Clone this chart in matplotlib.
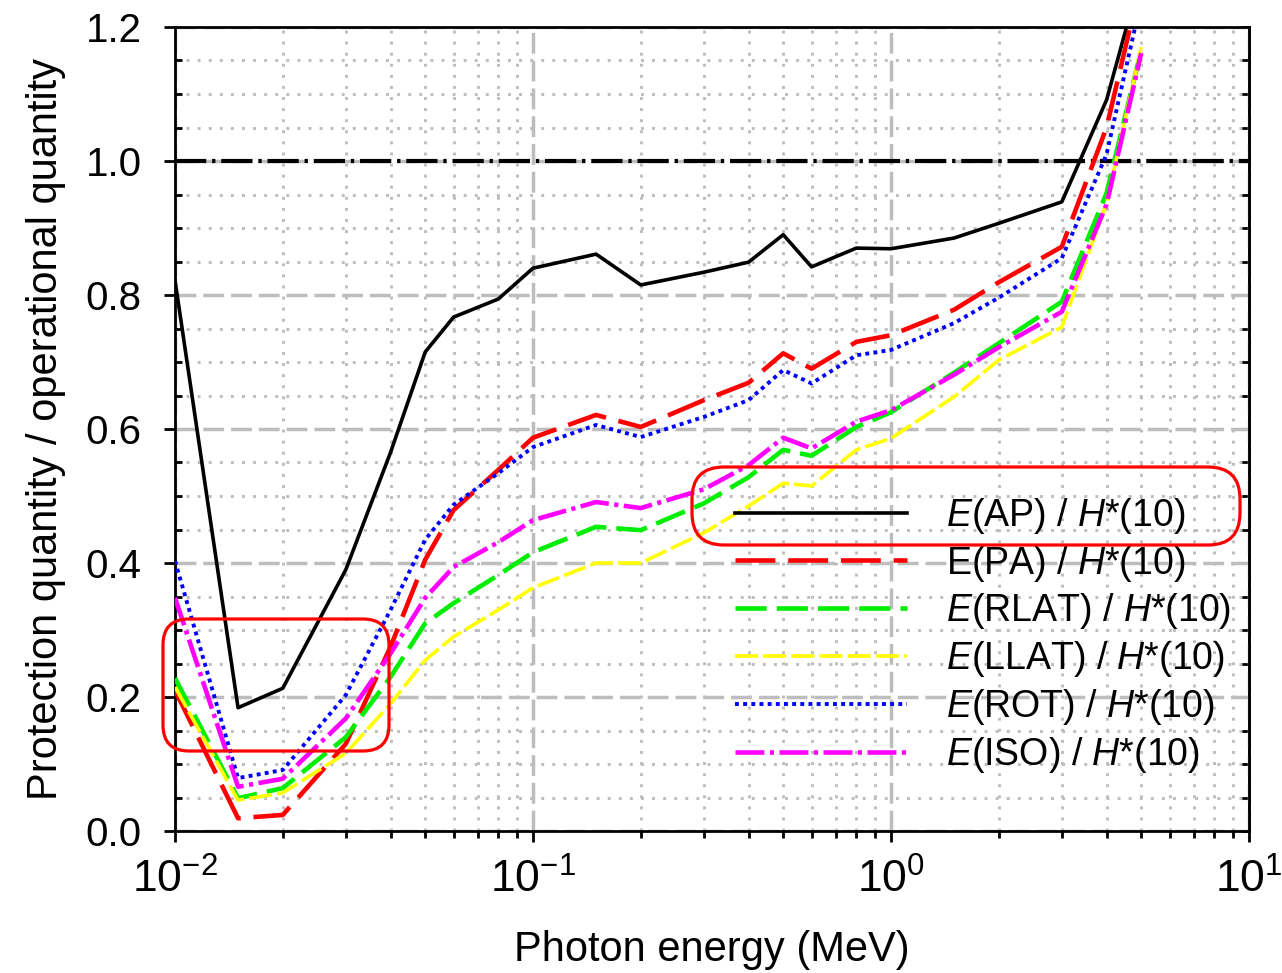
import numpy as np
import matplotlib
matplotlib.use("Agg")
import matplotlib.pyplot as plt
from matplotlib.patches import FancyBboxPatch
from matplotlib.ticker import LogLocator, LogFormatterSciNotation, MultipleLocator, FormatStrFormatter, NullFormatter

plt.rcParams['font.family'] = ['Liberation Sans', 'DejaVu Sans']
plt.rcParams['mathtext.fontset'] = 'custom'
plt.rcParams['mathtext.rm'] = 'Liberation Sans'
plt.rcParams['mathtext.it'] = 'Liberation Sans:italic'
plt.rcParams['axes.unicode_minus'] = False

# Photon energy (MeV)
energy = [0.01, 0.015, 0.02, 0.03, 0.04, 0.05, 0.06, 0.08, 0.1, 0.15, 0.2, 0.3,
          0.4, 0.5, 0.6, 0.8, 1.0, 1.5, 2.0, 3.0, 4.0, 5.0]

# Ratios E / H*(10) for each irradiation geometry
ratio_ap = [0.822, 0.184, 0.213, 0.390, 0.565, 0.715, 0.767, 0.794, 0.840, 0.861, 0.815, 0.834,
            0.849, 0.890, 0.842, 0.870, 0.869, 0.885, 0.907, 0.939, 1.091, 1.280]
ratio_pa = [0.210, 0.019, 0.024, 0.130, 0.275, 0.405, 0.479, 0.539, 0.587, 0.621, 0.603, 0.643,
            0.669, 0.713, 0.690, 0.730, 0.740, 0.778, 0.819, 0.872, 1.050, 1.270]
ratio_rlat = [0.228, 0.049, 0.064, 0.140, 0.230, 0.310, 0.340, 0.382, 0.416, 0.454, 0.449, 0.489,
              0.528, 0.569, 0.560, 0.603, 0.625, 0.684, 0.728, 0.790, 0.952, 1.166]
ratio_llat = [0.215, 0.046, 0.057, 0.116, 0.190, 0.255, 0.290, 0.330, 0.363, 0.400, 0.400, 0.445,
              0.485, 0.519, 0.515, 0.569, 0.586, 0.648, 0.703, 0.752, 0.937, 1.170]
ratio_rot = [0.403, 0.079, 0.091, 0.203, 0.330, 0.435, 0.487, 0.534, 0.573, 0.606, 0.588, 0.618,
             0.643, 0.688, 0.668, 0.710, 0.718, 0.758, 0.796, 0.855, 1.010, 1.240]
ratio_iso = [0.348, 0.066, 0.078, 0.168, 0.265, 0.348, 0.394, 0.431, 0.464, 0.491, 0.482, 0.510,
             0.546, 0.587, 0.571, 0.611, 0.628, 0.681, 0.722, 0.775, 0.935, 1.161]

labels = [r'$\mathit{E}$(AP) / $\mathit{H}$*(10)',
          r'E(PA) / $\mathit{H}$*(10)',
          r'$\mathit{E}$(RLAT) / $\mathit{H}$*(10)',
          r'$\mathit{E}$(LLAT) / $\mathit{H}$*(10)',
          r'$\mathit{E}$(ROT) / $\mathit{H}$*(10)',
          r'$\mathit{E}$(ISO) / $\mathit{H}$*(10)']

W, H = 1282, 973
fig = plt.figure(figsize=(W / 100, H / 100), dpi=100)
ax = fig.add_axes([175 / W, (H - 831) / H, 1074 / W, 804 / H])

grey = '#bdbdbd'

# reference line at 1.0
ax.axhline(1.0, color='black', lw=3, dashes=(7.5, 1.4, 0.8, 1.4), zorder=2)

ax.plot(energy, ratio_ap, color='black', lw=2.6, label=labels[0], zorder=3)
ax.plot(energy, ratio_pa, color='#ff0000', lw=3.3, dashes=(8.7, 2.8), label=labels[1], zorder=3)
ax.plot(energy, ratio_rlat, color='#00ee00', lw=3.3, dashes=(6.8, 2.2), label=labels[2], zorder=3)
ax.plot(energy, ratio_llat, color='#ffff00', lw=2.6, dashes=(6.4, 1.4), label=labels[3], zorder=3)
ax.plot(energy, ratio_rot, color='#0000ff', lw=2.8, dashes=(1.0, 1.1), label=labels[4], zorder=3)
ax.plot(energy, ratio_iso, color='#ff00ff', lw=3.3, dashes=(6.3, 1.2, 0.9, 1.2), label=labels[5], zorder=3)

ax.set_xscale('log')
ax.set_xlim(0.01, 10)
ax.set_ylim(0, 1.2)

ax.xaxis.set_major_locator(LogLocator(base=10, numticks=10))
ax.xaxis.set_minor_locator(LogLocator(base=10, subs=np.arange(2, 10), numticks=20))
ax.xaxis.set_major_formatter(LogFormatterSciNotation())
ax.xaxis.set_minor_formatter(NullFormatter())
ax.yaxis.set_major_locator(MultipleLocator(0.2))
ax.yaxis.set_minor_locator(MultipleLocator(0.05))
ax.yaxis.set_major_formatter(FormatStrFormatter('%.1f'))

ax.grid(which='major', color=grey, lw=2.5, dashes=(6, 2), zorder=0)
ax.grid(which='minor', color=grey, lw=2.1, dashes=(1, 2.8), zorder=0)
ax.set_axisbelow(True)

for s in ax.spines.values():
    s.set_linewidth(2)
ax.tick_params(axis='both', which='major', width=2, length=8, direction='out')
ax.tick_params(axis='x', which='major', labelsize=32, pad=12)
ax.tick_params(axis='y', which='major', labelsize=29, pad=16)
ax.tick_params(axis='x', which='minor', width=2, length=5, direction='out')
ax.tick_params(axis='y', which='minor', width=2, length=5, direction='in')

# inward ticks on the right side
sec = ax.secondary_yaxis('right')
sec.yaxis.set_major_locator(MultipleLocator(0.05))
sec.tick_params(direction='in', length=6, width=2, labelright=False)
sec.spines['right'].set_linewidth(2)

ax.set_xlabel('Photon energy (MeV)', fontsize=30, labelpad=20)
ax.set_ylabel('Protection quantity / operational quantity', fontsize=30, labelpad=14)

leg = ax.legend(loc='upper left', bbox_to_anchor=(0.521, 0.417), frameon=False, fontsize=27,
                handlelength=4.6, handletextpad=1.05, labelspacing=0.21,
                borderpad=0, borderaxespad=0)

# red highlight boxes, drawn on a pixel overlay
ov = fig.add_axes([0, 0, 1, 1])
ov.set_xlim(0, W)
ov.set_ylim(H, 0)
ov.axis('off')
ov.add_patch(FancyBboxPatch((692, 467), 548, 78, boxstyle='round,pad=0,rounding_size=32',
                            fill=False, ec='#ff0000', lw=2.3))
ov.add_patch(FancyBboxPatch((163, 619), 226, 132, boxstyle='round,pad=0,rounding_size=26',
                            fill=False, ec='#ff0000', lw=2.3))

fig.savefig('out.png', dpi=100)
